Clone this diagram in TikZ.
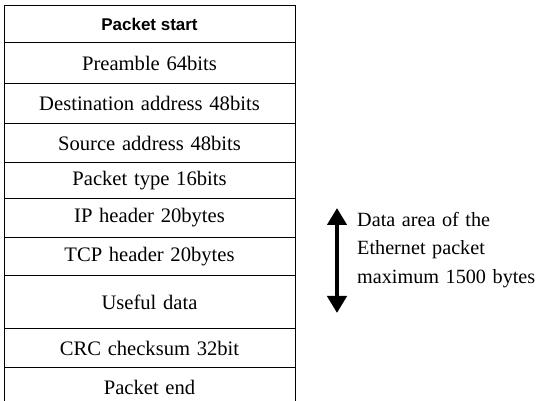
\documentclass[tikz,border=0pt]{standalone}
\usepackage{fontspec}
\setmainfont{Liberation Serif}[WordSpace=1.3]
\newfontfamily\labelsans{Liberation Sans}
\usetikzlibrary{arrows.meta}
\begin{document}
\begin{tikzpicture}[x=1pt,y=-1pt,
  rowtext/.style={font=\fontsize{20.6}{25}\selectfont, inner sep=0pt, anchor=center},
  headtext/.style={font=\labelsans\bfseries\fontsize{17}{20}\selectfont, inner sep=0pt, anchor=center},
  frame/.style={line width=0.9pt, black},
  sidetext/.style={font=\fontsize{20.2}{28.5}\selectfont, align=left, inner sep=0pt, anchor=north west},
  bigarrow/.style={line width=4.5pt, {Triangle[length=17pt,width=19pt]}-{Triangle[length=17pt,width=19pt]}}]
\useasboundingbox (0,0) rectangle (542,401);
% packet frame: horizontal separators and open-ended sides
\foreach \y in {5,42,83,123,162,198,237,275,328,367}
  \draw[frame] (4,\y) -- (295,\y);
\draw[frame] (4,5) -- (4,401);
\draw[frame] (295,5) -- (295,401);
% field labels
\node[headtext] (start) at (149.5,24) {Packet start};
\node[rowtext] (pre)  at (149.5,63) {Preamble 64bits};
\node[rowtext] (dst)  at (149.5,103) {Destination address 48bits};
\node[rowtext] (src)  at (149.5,143) {Source address 48bits};
\node[rowtext] (typ)  at (149.5,181) {Packet type 16bits};
\node[rowtext] (ip)   at (149.5,218) {IP header 20bytes};
\node[rowtext] (tcp)  at (149.5,257) {TCP header 20bytes};
\node[rowtext] (data) at (149.5,302) {Useful data};
\node[rowtext] (crc)  at (149.5,348) {CRC checksum 32bit};
\node[rowtext] (end)  at (149.5,387) {Packet end};
% data area marker
\coordinate (atop) at (337,208);
\coordinate (abot) at (337,313);
\draw[bigarrow] (atop) -- (abot);
\node[sidetext] (note) at (357,212) {Data area of the\\Ethernet packet\\maximum 1500 bytes};
\end{tikzpicture}
\end{document}
